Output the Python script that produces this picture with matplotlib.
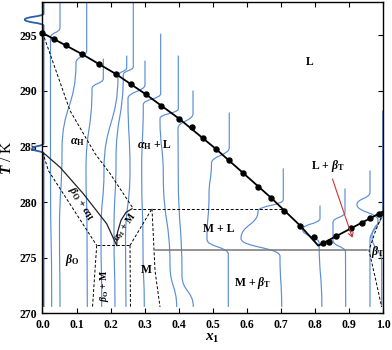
import matplotlib
matplotlib.use('Agg')
import matplotlib.pyplot as plt
from matplotlib.path import Path
from matplotlib.patches import PathPatch, FancyArrowPatch

plt.rcParams['font.family'] = ['Liberation Serif', 'DejaVu Serif']
plt.rcParams['font.weight'] = 'bold'
plt.rcParams['mathtext.fontset'] = 'custom'
plt.rcParams['mathtext.rm'] = 'Liberation Serif:bold'
plt.rcParams['mathtext.it'] = 'Liberation Serif:italic:bold'
plt.rcParams['mathtext.bf'] = 'Liberation Serif:bold'

# ---------------- data ----------------
# measured liquidus points
liq_dots_x = [0.000, 0.035, 0.068, 0.117, 0.165, 0.215, 0.260, 0.303, 0.349, 0.401,
              0.438, 0.472, 0.509, 0.547, 0.590, 0.632, 0.671, 0.709, 0.757, 0.798,
              0.825, 0.841, 0.861, 0.905, 0.938, 0.963, 0.989]
liq_dots_T = [295.20, 294.66, 294.15, 293.28, 292.44, 291.52, 290.58, 289.69, 288.67, 287.50,
              286.70, 285.80, 284.78, 283.80, 282.59, 281.34, 280.39, 279.18, 277.87, 276.85,
              276.31, 276.44, 276.97, 277.63, 278.14, 278.55, 278.95]
# fitted liquidus line
liq_line_x = [0.000, 0.117, 0.215, 0.303, 0.401, 0.509, 0.590, 0.671, 0.757, 0.810, 1.000]
liq_line_T = [295.20, 293.28, 291.52, 289.69, 287.50, 284.78, 282.59, 280.39, 277.87, 276.08, 279.15]

# dashed phase boundaries
bnd_aH_x = [0.0006, 0.0808, 0.1542, 0.1982, 0.2667]
bnd_aH_T = [295.20, 288.22, 284.36, 282.57, 279.40]
bnd_bO_x = [0.0006, 0.0170, 0.1592]
bnd_bO_T = [284.48, 282.84, 276.10]
bnd_low_x = [0.1592, 0.2570]
bnd_low_T = [276.10, 276.10]
bnd_v1_x = [0.1592, 0.1469]
bnd_v1_T = [276.10, 270.57]
bnd_v2_x = [0.2570, 0.2584]
bnd_v2_T = [276.10, 270.57]
bnd_diag_x = [0.2570, 0.3216]
bnd_diag_T = [276.10, 279.40]
bnd_M_x = [0.3216, 0.3304, 0.3451]
bnd_M_T = [279.40, 273.86, 270.57]
bnd_up_x = [0.2667, 0.702]
bnd_up_T = [279.40, 279.40]
bnd_bT_x = [1.000, 0.9765, 0.9589, 0.979, 0.9962]
bnd_bT_T = [279.02, 277.27, 275.66, 272.96, 270.57]
# solid phase boundaries
sol_bOaH_x = [0.0006, 0.0514, 0.1198, 0.1885, 0.2179]
sol_bOaH_T = [284.48, 283.13, 280.75, 278.05, 276.10]
sol_arc_x = [0.2179, 0.2203, 0.2305, 0.2452, 0.2629]
sol_arc_T = [276.10, 277.27, 278.35, 279.07, 279.40]
eut_x = [0.330, 0.952]
eut_T = [275.72, 275.72]

# DSC traces: knots (x1, T) from bottom to top
traces = [
    ([0.0030, 0.0030, -0.030, 0.0030, 0.0030, -0.052, 0.0030, 0.0030],
     [270.57, 284.36, 284.80, 285.26, 295.85, 296.40, 296.93, 297.95]),
    ([0.0270, 0.0235, 0.0235, 0.0514, 0.0514],
     [270.57, 282.84, 294.78, 295.67, 297.90]),
    ([0.0514, 0.0499, 0.0573, 0.0984, 0.1298, 0.1298],
     [270.57, 277.45, 284.63, 292.53, 293.61, 297.90]),
    ([0.1316, 0.1307, 0.1277, 0.1454, 0.1786, 0.1786],
     [270.57, 277.45, 282.84, 290.20, 291.10, 292.89]),
    ([0.1739, 0.1718, 0.1806, 0.2217, 0.2473, 0.2473],
     [270.57, 277.45, 282.84, 291.36, 292.08, 293.16]),
    ([0.2129, 0.2100, 0.2159, 0.2373, 0.2667, 0.2667],
     [270.57, 277.45, 283.73, 291.45, 292.17, 297.90]),
    ([0.2452, 0.2438, 0.2570, 0.2511, 0.3010, 0.3010],
     [270.57, 276.55, 282.84, 289.30, 290.56, 292.71]),
    ([0.2990, 0.2952, 0.2913, 0.2960, 0.3471, 0.3471],
     [270.57, 275.66, 282.84, 288.76, 289.75, 295.13]),
    ([0.3941, 0.3745, 0.3548, 0.3451, 0.3988, 0.3988],
     [270.57, 274.31, 282.39, 287.50, 288.40, 293.16]),
    ([0.4429, 0.4097, 0.3988, 0.3979, 0.4420, 0.4420],
     [270.57, 273.41, 282.39, 286.61, 287.95, 290.02]),
    ([0.5457, 0.5457, 0.4831, 0.4890, 0.4963, 0.5485, 0.5485],
     [270.57, 275.30, 276.64, 280.59, 283.47, 284.90, 288.04]),
    ([0.7025, 0.6975, 0.5830, 0.6329, 0.7072, 0.7072],
     [270.57, 275.12, 276.73, 279.16, 280.23, 283.02]),
    ([0.8205, 0.8126, 0.7636, 0.8150, 0.8150],
     [270.57, 276.28, 277.54, 278.53, 279.69]),
    ([0.8905, 0.8899, 0.8532, 0.8532, 0.8884, 0.8884],
     [270.57, 275.48, 276.55, 278.17, 279.07, 281.22]),
    ([0.9618, 0.9618, 0.9853, 0.9236, 0.9618, 0.9618],
     [270.57, 276.55, 278.35, 279.78, 280.86, 282.84]),
    ([0.9962, 0.9962, 0.9677, 0.9991, 0.9991],
     [270.57, 274.58, 276.91, 279.07, 288.22]),
]

# region labels: (text, x1, T, rotation, size)
labels = [
    ('L', 0.786, 292.56, 0, 8.5),
    (r'L + $\mathit{β}_\mathrm{T}$', 0.839, 283.2, 0, 8.5),
    (r'$\mathit{α}_\mathrm{H}$', 0.104, 285.4, 0, 8.5),
    (r'$\mathit{α}_\mathrm{H}$ + L', 0.330, 285.1, 0, 8.5),
    (r'$\mathit{β}_\mathrm{O}$ + $\mathit{α}_\mathrm{H}$', 0.112, 279.85, -57, 8),
    (r'$\mathit{α}_\mathrm{H}$ + M', 0.2423, 277.75, 55, 7),
    (r'$\mathit{β}_\mathrm{O}$', 0.0858, 274.76, 0, 8.5),
    (r'$\mathit{β}_\mathrm{O}$ + M', 0.1835, 272.5, 90, 7),
    ('M', 0.306, 273.86, 0, 8.5),
    ('M + L', 0.518, 277.6, 0, 8.5),
    (r'M + $\mathit{β}_\mathrm{T}$', 0.618, 272.74, 0, 8.5),
    (r'$\mathit{β}_\mathrm{T}$', 0.985, 275.5, 0, 8.5),
]
arrow_start = (0.849, 282.3)
arrow_end = (0.913, 276.55)

x_ticks = [0.0, 0.1, 0.2, 0.3, 0.4, 0.5, 0.6, 0.7, 0.8, 0.9, 1.0]
y_ticks = [270, 275, 280, 285, 290, 295]

# ---------------- drawing ----------------
fig = plt.figure(figsize=(3.92, 3.5), dpi=100)
ax = fig.add_axes([0.1084, 0.1049, 0.8686, 0.8900])
ax.set_xlim(0, 1)
ax.set_ylim(270, 298)

trace_color = '#5b8ed6'


def smooth_path(xs, ts):
    verts = [(xs[0], ts[0])]
    codes = [Path.MOVETO]
    for i in range(1, len(xs)):
        mid = 0.5 * (ts[i - 1] + ts[i])
        verts += [(xs[i - 1], mid), (xs[i], mid), (xs[i], ts[i])]
        codes += [Path.CURVE4] * 3
    return Path(verts, codes)


for k, (xs, ts) in enumerate(traces):
    col = '#2d5fa8' if k == 0 else trace_color
    lw = 1.3 if k == 0 else 0.85
    patch = PathPatch(smooth_path(xs, ts), facecolor='none', edgecolor=col,
                      lw=lw, transform=ax.transData, zorder=2)
    if k == 0:
        patch.set_clip_on(False)
    ax.add_patch(patch)

dash = dict(color='black', lw=0.7, linestyle=(0, (3, 2)), zorder=3)
for bx, bt in [(bnd_aH_x, bnd_aH_T), (bnd_bO_x, bnd_bO_T), (bnd_low_x, bnd_low_T),
               (bnd_v1_x, bnd_v1_T), (bnd_v2_x, bnd_v2_T), (bnd_diag_x, bnd_diag_T),
               (bnd_M_x, bnd_M_T), (bnd_up_x, bnd_up_T), (bnd_bT_x, bnd_bT_T)]:
    ax.plot(bx, bt, **dash)

ax.plot(sol_bOaH_x, sol_bOaH_T, color='#222222', lw=0.9, zorder=3)
ax.plot(sol_arc_x, sol_arc_T, color='#222222', lw=0.9, zorder=3)
ax.plot(eut_x, eut_T, color='#777777', lw=1.1, zorder=3)

ax.plot(liq_line_x, liq_line_T, color='black', lw=1.3, zorder=4)
ax.plot(liq_dots_x, liq_dots_T, 'o', color='black', ms=3.6, zorder=5, clip_on=False)

ax.add_patch(FancyArrowPatch(arrow_start, arrow_end, arrowstyle='->,head_length=3,head_width=1.8',
                             color='#d23232', lw=0.8, zorder=6))

for txt, lx, lt, rot, sz in labels:
    ax.text(lx, lt, txt, ha='center', va='center', rotation=rot, fontsize=sz,
            fontweight='bold', zorder=7)

ax.set_xticks(x_ticks)
ax.set_xticklabels([f'{v:.1f}' for v in x_ticks])
ax.set_yticks(y_ticks)
ax.set_yticklabels([str(v) for v in y_ticks])
ax.tick_params(direction='in', top=True, right=True, length=3.5, width=0.8,
               labelsize=8.5, pad=4)
for s in ax.spines.values():
    s.set_linewidth(1.0)

ax.set_xlabel(r'$x_1$', fontsize=11, labelpad=1)
ax.set_ylabel(r'$T$ / K', fontsize=11, labelpad=4)

fig.savefig('out.png', dpi=100)
